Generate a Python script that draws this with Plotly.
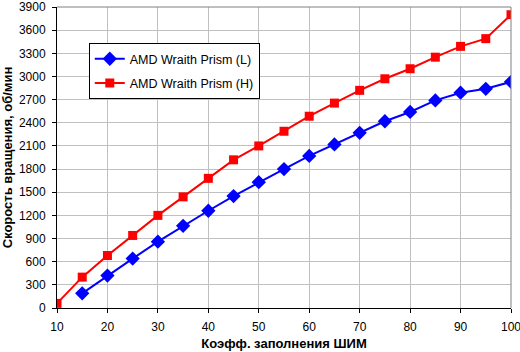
import plotly.graph_objects as go

x_l = [15, 20, 25, 30, 35, 40, 45, 50, 55, 60, 65, 70, 75, 80, 85, 90, 95, 100]
y_l = [190, 420, 640, 860, 1065, 1260, 1450, 1630, 1800, 1970, 2120, 2270, 2420, 2540, 2690, 2790, 2840, 2930]
x_h = [10, 15, 20, 25, 30, 35, 40, 45, 50, 55, 60, 65, 70, 75, 80, 85, 90, 95, 100]
y_h = [60, 400, 680, 940, 1200, 1440, 1680, 1920, 2100, 2290, 2485, 2655, 2820, 2970, 3100, 3250, 3390, 3490, 3800]
x_ticks = [10, 20, 30, 40, 50, 60, 70, 80, 90, 100]
y_ticks = [0, 300, 600, 900, 1200, 1500, 1800, 2100, 2400, 2700, 3000, 3300, 3600, 3900]
name_l = "AMD Wraith Prism (L)"
name_h = "AMD Wraith Prism (H)"
x_title = "Коэфф. заполнения ШИМ"
y_title = "Скорость вращения, об/мин"

font = "Liberation Sans, Arial, sans-serif"

fig = go.Figure()
fig.add_trace(go.Scatter(x=x_l, y=y_l, name=name_l, mode="lines+markers",
                         legendgroup="l",
                         line=dict(color="#0000ff", width=2),
                         marker=dict(symbol="diamond", size=11, color="#0000ff")))
fig.add_trace(go.Scatter(x=x_h, y=y_h, name=name_h, mode="lines+markers",
                         legendgroup="h",
                         line=dict(color="#ff0000", width=2),
                         marker=dict(symbol="square", size=9, color="#ff0000")))

fig.update_layout(
    width=520, height=352,
    margin=dict(l=57, r=9, t=7, b=44),
    paper_bgcolor="white", plot_bgcolor="white",
    font=dict(family=font, size=12, color="black"),
    showlegend=True,
    legend=dict(x=0.07, y=0.88, xanchor="left", yanchor="top",
                bordercolor="black", borderwidth=1, bgcolor="white",
                font=dict(family=font, size=12.5), tracegroupgap=5,
                itemwidth=30),
    xaxis=dict(range=[10, 100], tickvals=x_ticks,
               showgrid=True, gridcolor="#c0c0c0", gridwidth=1,
               showline=True, linecolor="black", linewidth=1,
               ticks="outside", ticklen=4, tickcolor="black",
               ticklabelstandoff=4, ticklabeloverflow="allow",
               automargin=False,
               zeroline=False, mirror=False,
               title=dict(text="<b>" + x_title + "</b>", font=dict(size=13), standoff=5)),
    yaxis=dict(range=[0, 3900], tickvals=y_ticks,
               showgrid=True, gridcolor="#c0c0c0", gridwidth=1,
               showline=True, linecolor="black", linewidth=1,
               ticks="outside", ticklen=4, tickcolor="black",
               ticklabelstandoff=4, ticklabeloverflow="allow",
               automargin=False,
               zeroline=False,
               title=dict(text="<b>" + y_title + "</b>", font=dict(size=13), standoff=3)),
)
# gray frame top/right
fig.add_shape(type="line", xref="paper", yref="paper", x0=0, x1=1, y0=1, y1=1,
              line=dict(color="#808080", width=1))
fig.add_shape(type="line", xref="paper", yref="paper", x0=1, x1=1, y0=0, y1=1,
              line=dict(color="#808080", width=1))

fig.write_html("out.html")
